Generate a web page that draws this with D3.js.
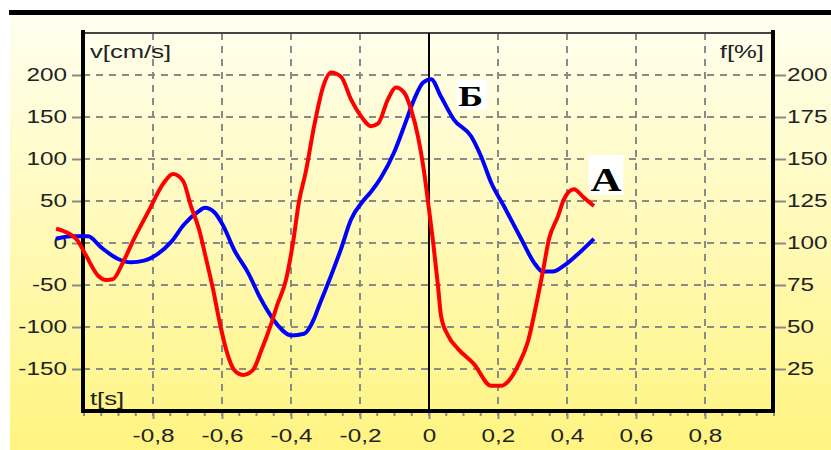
<!DOCTYPE html>
<html>
<head>
<meta charset="utf-8">
<script src="https://d3js.org/d3.v7.min.js"></script>
<style>
  body { margin: 0; background: #fff; }
  svg { display: block; }
</style>
</head>
<body>
<div id="vis-container"></div>
<script>
// Curve A (red) - time in s, velocity in cm/s
const tA = [-1.081, -1.058, -1.017, -0.994, -0.959, -0.936, -0.916, -0.887, -0.855, -0.814, -0.768, -0.742,
  -0.713, -0.69, -0.667, -0.646, -0.626, -0.609, -0.588, -0.565, -0.539, -0.51, -0.487, -0.458, -0.441,
  -0.414, -0.394, -0.377, -0.357, -0.333, -0.307, -0.284, -0.255, -0.226, -0.197, -0.168, -0.148, -0.119,
  -0.096, -0.072, -0.052, -0.032, -0.014, 0.0, 0.012, 0.026, 0.035, 0.055, 0.084, 0.13, 0.18, 0.209, 0.229,
  0.258, 0.287, 0.31, 0.33, 0.348, 0.374, 0.391, 0.42, 0.449, 0.478];
const vA = [17, 14, 2, -15, -39, -44, -43, -23, 5, 37, 72, 82,
  74, 44, 17, -19, -55, -90, -127, -151, -157, -151, -129, -97, -75,
  -43, 1, 49, 85, 139, 186, 203, 198, 171, 151, 139, 142, 171,
  185, 179, 159, 127, 84, 40, 1, -51, -87, -110, -126, -144, -170, -170, -165,
  -146, -117, -75, -34, 5, 32, 52, 64, 54, 44];

// Curve Б (blue)
const tB = [-1.081, -1.038, -0.988, -0.951, -0.901, -0.864, -0.826, -0.786, -0.748, -0.71, -0.67, -0.649,
  -0.623, -0.597, -0.565, -0.525, -0.487, -0.458, -0.438, -0.4, -0.362, -0.333, -0.319, -0.284, -0.255,
  -0.226, -0.191, -0.168, -0.139, -0.101, -0.072, -0.043, -0.017, 0.006, 0.035, 0.072, 0.122, 0.151, 0.18,
  0.217, 0.267, 0.304, 0.33, 0.359, 0.391, 0.432, 0.478];
const vB = [5, 8, 8, -5, -19, -23, -21, -13, 1, 22, 37, 42,
  37, 21, -8, -35, -67, -87, -98, -110, -108, -90, -75, -39, -7,
  28, 50, 61, 78, 108, 139, 171, 191, 195, 174, 147, 127, 103, 72,
  44, 5, -23, -34, -34, -27, -13, 5];

const xTicks = [-0.8, -0.6, -0.4, -0.2, 0, 0.2, 0.4, 0.6, 0.8];
const vTicks = [-150, -100, -50, 0, 50, 100, 150, 200];
const fTicks = [25, 50, 75, 100, 125, 150, 175, 200];

const width = 831;
const height = 450;
const plot = { left: 83, right: 773, top: 33, bottom: 411 };
const sx = 1.35; // the original fonts are stretched sideways
const gridColor = "#8a8a8a";
const sans = "'Liberation Sans', Arial, sans-serif";

const svg = d3.select("#vis-container")
  .append("svg")
  .attr("width", width)
  .attr("height", height);

// yellow background
const grad = svg.append("defs").append("linearGradient")
  .attr("id", "bg").attr("x1", 0).attr("y1", 0).attr("x2", 0).attr("y2", 1);
grad.append("stop").attr("offset", "0%").attr("stop-color", "#fffff0");
grad.append("stop").attr("offset", "100%").attr("stop-color", "#fff480");

svg.append("rect")
  .attr("x", 10).attr("y", 15)
  .attr("width", width - 10).attr("height", height - 15)
  .attr("fill", "url(#bg)");

svg.append("rect")
  .attr("x", 9).attr("y", 10)
  .attr("width", width - 9).attr("height", 5)
  .attr("fill", "#000");

// Scales
const xScale = d3.scaleLinear().domain([-1, 1]).range([plot.left + 1, plot.right + 1]);
const yScale = d3.scaleLinear().domain([-200, 250]).range([plot.bottom, plot.top]);
const fScale = d3.scaleLinear().domain([0, 225]).range([plot.bottom, plot.top]);

// dashed grid
svg.append("g")
  .selectAll("line")
  .data(vTicks)
  .join("line")
  .attr("x1", plot.left).attr("x2", plot.right)
  .attr("y1", (d) => yScale(d)).attr("y2", (d) => yScale(d))
  .attr("stroke", gridColor)
  .attr("stroke-width", 2)
  .attr("stroke-dasharray", "7,6");

svg.append("g")
  .selectAll("line")
  .data(xTicks.filter((d) => d !== 0))
  .join("line")
  .attr("x1", (d) => xScale(d)).attr("x2", (d) => xScale(d))
  .attr("y1", plot.top).attr("y2", plot.bottom)
  .attr("stroke", gridColor)
  .attr("stroke-width", 2)
  .attr("stroke-dasharray", "7,6");

// minor ticks under the time axis
svg.append("g")
  .selectAll("line")
  .data(xScale.ticks(40))
  .join("line")
  .attr("x1", (d) => xScale(d)).attr("x2", (d) => xScale(d))
  .attr("y1", plot.bottom).attr("y2", plot.bottom + 5)
  .attr("stroke", gridColor)
  .attr("stroke-width", 2);

// Left axis (v)
svg.append("g")
  .attr("transform", `translate(${plot.left},0)`)
  .call(d3.axisLeft(yScale).tickValues(vTicks).tickSize(11).tickFormat((d) => String(d)))
  .attr("font-family", sans)
  .attr("font-size", 18)
  .call((g) => g.select(".domain").remove())
  .call((g) => g.selectAll("line").attr("stroke", gridColor).attr("stroke-width", 2))
  .call((g) => g.selectAll("text")
    .attr("x", -16 / sx)
    .attr("transform", `scale(${sx},1)`)
    .attr("fill", "#222"));

// Right axis (f)
svg.append("g")
  .attr("transform", `translate(${plot.right},0)`)
  .call(d3.axisRight(fScale).tickValues(fTicks).tickSize(13).tickFormat((d) => String(d)))
  .attr("font-family", sans)
  .attr("font-size", 18)
  .call((g) => g.select(".domain").remove())
  .call((g) => g.selectAll("line").attr("stroke", gridColor).attr("stroke-width", 2))
  .call((g) => g.selectAll("text")
    .attr("x", 14 / sx)
    .attr("transform", `scale(${sx},1)`)
    .attr("fill", "#222"));

// Bottom axis (t)
svg.append("g")
  .attr("transform", `translate(0,${plot.bottom})`)
  .call(d3.axisBottom(xScale).tickValues(xTicks).tickSize(8).tickFormat((d) => String(d).replace(".", ",")))
  .attr("font-family", sans)
  .attr("font-size", 18)
  .call((g) => g.select(".domain").remove())
  .call((g) => g.selectAll("line").attr("stroke", gridColor).attr("stroke-width", 2))
  .call((g) => g.selectAll("text")
    .attr("y", 18)
    .attr("transform", `scale(${sx},1)`)
    .attr("fill", "#222"));

// frame
svg.append("line")
  .attr("x1", plot.left).attr("x2", plot.right)
  .attr("y1", plot.top).attr("y2", plot.top)
  .attr("stroke", "#444").attr("stroke-width", 2);

svg.append("line")
  .attr("x1", xScale(0)).attr("x2", xScale(0))
  .attr("y1", plot.top).attr("y2", plot.bottom)
  .attr("stroke", "#000").attr("stroke-width", 2);

svg.append("line")
  .attr("x1", plot.left).attr("x2", plot.left)
  .attr("y1", plot.top - 3).attr("y2", plot.bottom + 2)
  .attr("stroke", "#000").attr("stroke-width", 4);

svg.append("line")
  .attr("x1", plot.right).attr("x2", plot.right)
  .attr("y1", plot.top - 3).attr("y2", plot.bottom + 2)
  .attr("stroke", "#000").attr("stroke-width", 4);

svg.append("line")
  .attr("x1", plot.left - 2).attr("x2", plot.right + 2)
  .attr("y1", plot.bottom).attr("y2", plot.bottom)
  .attr("stroke", "#000").attr("stroke-width", 4);

// Curves
const line = d3.line()
  .x((d) => xScale(d[0]))
  .y((d) => yScale(d[1]))
  .curve(d3.curveMonotoneX);

svg.append("path")
  .datum(d3.zip(tB, vB))
  .attr("d", line)
  .attr("fill", "none")
  .attr("stroke", "#0000ff")
  .attr("stroke-width", 4)
  .attr("stroke-linejoin", "round");

svg.append("path")
  .datum(d3.zip(tA, vA))
  .attr("d", line)
  .attr("fill", "none")
  .attr("stroke", "#ff0000")
  .attr("stroke-width", 4)
  .attr("stroke-linejoin", "round");

// axis titles
function stretchedText(x, y, txt, anchor) {
  svg.append("text")
    .attr("transform", `translate(${x},${y}) scale(${sx},1)`)
    .attr("text-anchor", anchor)
    .attr("font-family", sans)
    .attr("font-size", 19)
    .attr("fill", "#222")
    .text(txt);
}
stretchedText(plot.left + 7, 58, "v[cm/s]", "start");
stretchedText(plot.right - 9, 58, "f[%]", "end");
stretchedText(plot.left + 7, 405, "t[s]", "start");

// curve labels
function curveLabel(t, v, txt, w, h, size, scaleX) {
  const x = xScale(t);
  const y = yScale(v);
  svg.append("rect")
    .attr("x", x - 2).attr("y", y - h + 4)
    .attr("width", w).attr("height", h)
    .attr("fill", "#fff");
  svg.append("text")
    .attr("transform", `translate(${x},${y}) scale(${scaleX},1)`)
    .attr("font-family", "'Liberation Serif', 'Times New Roman', serif")
    .attr("font-weight", "bold")
    .attr("font-size", size)
    .attr("fill", "#000")
    .text(txt);
}
curveLabel(0.085, 163, "Б", 31, 30, 30, 1.25);
curveLabel(0.468, 62, "А", 35, 40, 33, 1.3);
</script>
</body>
</html>
